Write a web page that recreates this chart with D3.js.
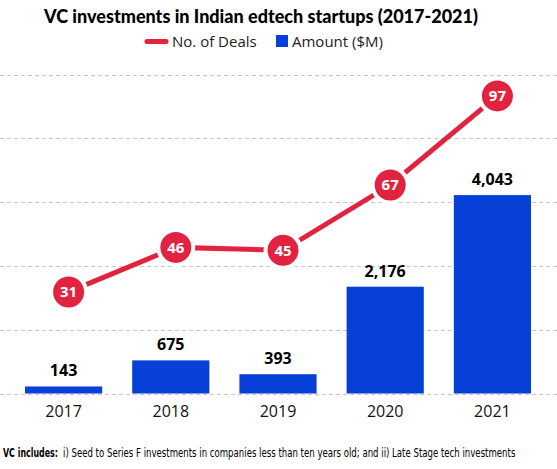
<!DOCTYPE html>
<html>
<head>
<meta charset="utf-8">
<script src="https://cdn.jsdelivr.net/npm/d3@7"></script>
<style>
  body { margin: 0; background: #fff; }
  svg text { font-family: "Open Sans", sans-serif; }
</style>
</head>
<body>
<div class="chart"></div>
<script>
// data
const years = ["2017", "2018", "2019", "2020", "2021"];
const amounts = [143, 675, 393, 2176, 4043];   // $M
const deals = [31, 46, 45, 67, 97];
const gridTicks = [0, 1300, 2600, 3900, 5200, 6500];

const width = 557, height = 469;
const red = "#e2233f", blue = "#0740d6";

const svg = d3.select("div.chart").append("svg")
    .attr("width", width)
    .attr("height", height);

const x = d3.scaleBand().domain(years).range([10, 546])
    .paddingInner(0.28).paddingOuter(0.14);
const y = d3.scaleLinear().domain([0, 6500]).range([393.5, 74.5]);
// deals on their own scale
const y2 = d3.scaleLinear().domain([0, 100]).range([384, 87]);

// dashed grid
svg.append("g").selectAll("line")
    .data(gridTicks)
    .enter().append("line")
    .attr("x1", 0).attr("x2", width)
    .attr("y1", d => Math.round(y(d)) + 0.5)
    .attr("y2", d => Math.round(y(d)) + 0.5)
    .attr("stroke", "#c8c8c8")
    .attr("stroke-width", 1)
    .attr("stroke-dasharray", "4,3");

// bars
svg.append("g").selectAll("rect")
    .data(amounts)
    .enter().append("rect")
    .attr("x", (d, i) => x(years[i]))
    .attr("width", x.bandwidth())
    .attr("y", d => y(d))
    .attr("height", d => y(0) - y(d))
    .attr("fill", blue);

svg.append("g").selectAll("text")
    .data(amounts)
    .enter().append("text")
    .attr("x", (d, i) => x(years[i]) + x.bandwidth() / 2)
    .attr("y", d => y(d) - 10)
    .attr("text-anchor", "middle")
    .attr("font-size", 16)
    .attr("font-weight", "bold")
    .attr("fill", "#000")
    .text(d => d3.format(",")(d));

// x axis labels
const xAxis = svg.append("g")
    .attr("transform", `translate(0,${y(0)})`)
    .call(d3.axisBottom(x).tickSize(0).tickPadding(12));
xAxis.select(".domain").remove();
xAxis.selectAll("text")
    .attr("font-size", 16)
    .attr("fill", "#111")
    .style("font-family", "'Open Sans', sans-serif");

// deals line, points sit a little right of bar centres
const lx = (i) => x(years[i]) + x.bandwidth() / 2 + 5;
const line = d3.line().x((d, i) => lx(i)).y(d => y2(d));

svg.append("path")
    .datum(deals)
    .attr("d", line)
    .attr("fill", "none")
    .attr("stroke", red)
    .attr("stroke-width", 5);

const pts = svg.append("g").selectAll("g")
    .data(deals)
    .enter().append("g")
    .attr("transform", (d, i) => `translate(${lx(i)},${y2(d)})`);
pts.append("circle")
    .attr("r", 17.5)
    .attr("fill", red)
    .attr("stroke", "#fff")
    .attr("stroke-width", 4);
pts.append("text")
    .attr("dy", "0.36em")
    .attr("text-anchor", "middle")
    .attr("font-size", 15)
    .attr("font-weight", "bold")
    .attr("fill", "#fff")
    .text(d => d);

// title
svg.append("text")
    .attr("x", 261).attr("y", 23)
    .attr("text-anchor", "middle")
    .attr("font-size", 18)
    .attr("font-weight", "900")
    .attr("fill", "#000")
    .style("font-family", "Lato, sans-serif")
    .text("VC investments in Indian edtech startups (2017-2021)");

// legend
const lg = svg.append("g");
lg.append("line")
    .attr("x1", 147).attr("x2", 166)
    .attr("y1", 41.5).attr("y2", 41.5)
    .attr("stroke", red).attr("stroke-width", 5)
    .attr("stroke-linecap", "round");
lg.append("text")
    .attr("x", 172).attr("y", 47)
    .attr("font-size", 15).attr("fill", "#222")
    .text("No. of Deals");
lg.append("rect")
    .attr("x", 276).attr("y", 35)
    .attr("width", 12).attr("height", 12)
    .attr("fill", blue);
lg.append("text")
    .attr("x", 292).attr("y", 47)
    .attr("font-size", 15).attr("fill", "#222")
    .text("Amount ($M)");

// footnote: condensed look by scaling each run horizontally
function squeezed(str, x0, w, bold) {
    const t = svg.append("text")
        .attr("font-size", 13)
        .attr("font-weight", bold ? "bold" : "normal")
        .attr("fill", "#000")
        .style("font-family", "'DejaVu Sans', sans-serif")
        .text(str);
    const k = w / t.node().getComputedTextLength();
    t.attr("transform", `translate(${x0},457) scale(${k},1)`);
}
squeezed("VC includes:", 3, 55, true);
squeezed("i) Seed to Series F investments in companies less than ten years old; and ii) Late Stage tech investments", 63, 453, false);
</script>
</body>
</html>
